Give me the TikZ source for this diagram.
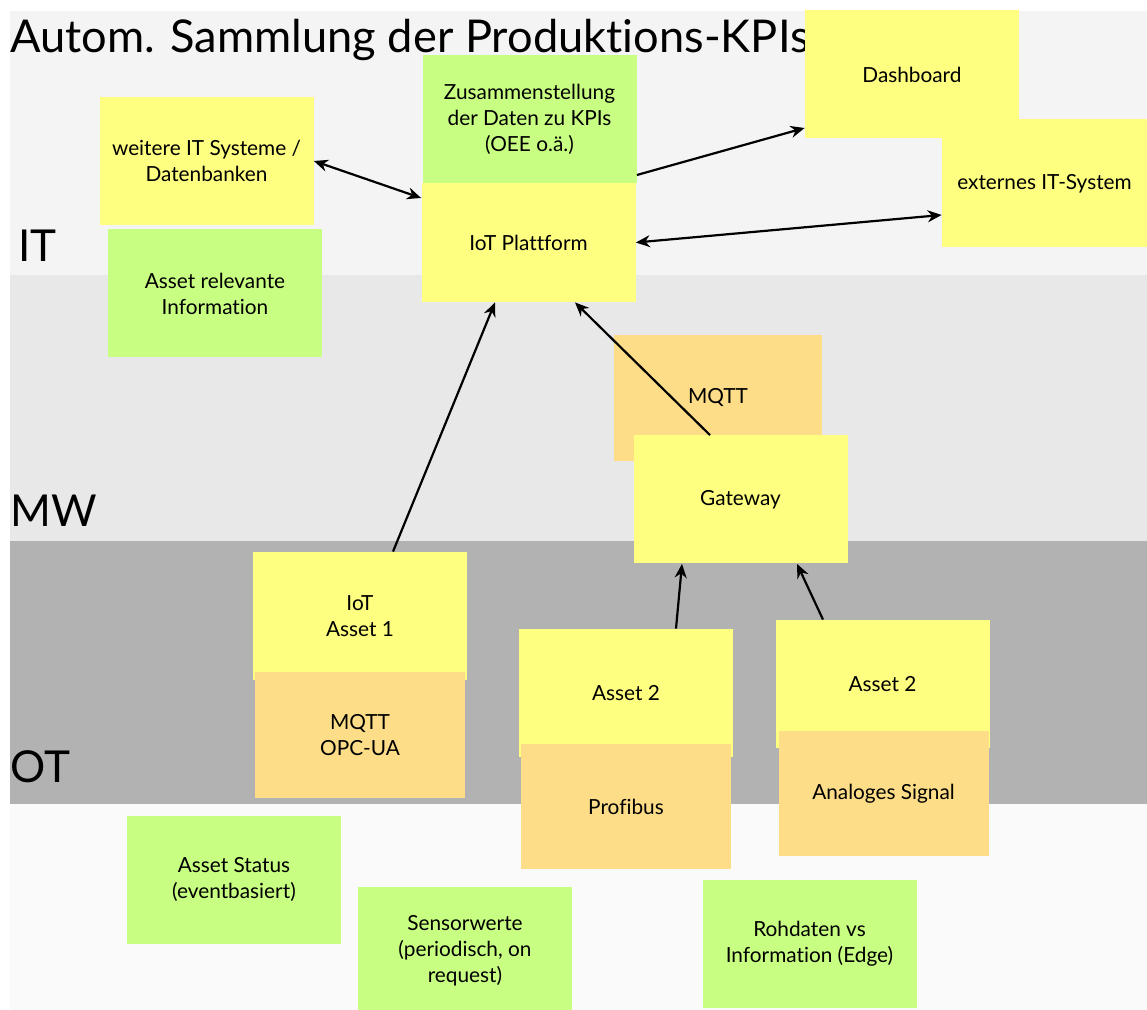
\documentclass[tikz,border=0pt]{standalone}
\usepackage{fontspec}
\setmainfont{Lato}[Ligatures=NoCommon]
\usetikzlibrary{arrows.meta}
\definecolor{stickyyellow}{HTML}{FEFE80}
\definecolor{stickygreen}{HTML}{C8FE82}
\definecolor{stickyorange}{HTML}{FEDD88}
\definecolor{bandit}{HTML}{F4F4F4}
\definecolor{bandmw}{HTML}{E8E8E8}
\definecolor{bandot}{HTML}{B2B2B2}
\definecolor{bandlow}{HTML}{FAFAFA}

\begin{document}
\begin{tikzpicture}[x=0.5pt, y=-0.5pt,
	note/.style={rectangle, inner sep=0pt, minimum width=107pt, minimum height=64pt, align=center, font=\fontsize{10.4}{13}\selectfont},
	yel/.style={note, fill=stickyyellow},
	grn/.style={note, fill=stickygreen},
	org/.style={note, fill=stickyorange, minimum width=105pt, minimum height=62.5pt},
	tip/.tip={Stealth[length=7pt, width=6pt]},
	link/.style={line width=1.1pt, -tip},
	both/.style={line width=1.1pt, tip-tip},
	layer/.style={anchor=base west, inner sep=0pt, font=\fontsize{22}{26}\selectfont}]
	\useasboundingbox (0,0) rectangle (1147,1010);
	\clip (0,0) rectangle (1147,1010);
	\fill[white] (0,0) rectangle (1147,1010);
	\fill[bandit] (10,11) rectangle (1147,275);
	\fill[bandmw] (10,275) rectangle (1147,541);
	\fill[bandot] (10,541) rectangle (1147,804);
	\fill[bandlow] (10,804) rectangle (1147,1010);
	\node[layer, font=\fontsize{22.6}{26}\selectfont] (title) at (10,53) {Autom. Sammlung der Produktions-KPIs};
	\node[layer] (it) at (18,262) {IT};
	\node[layer] (mw) at (10,527) {MW};
	\node[layer] (ot) at (10,783) {OT};

	\node[yel] (weitere) at (206.5,161) {weitere IT Systeme /\\Datenbanken};
	\node[grn] (asinfo) at (215,293.5) {Asset relevante\\Information};
	\node[grn] (kpi) at (529.5,119.5) {Zusammenstellung\\der Daten zu KPIs\\(OEE o.ä.)};
	\node[yel, minimum height=59.5pt] (iot) at (528.5,242.5) {IoT Plattform};
	\node[yel] (dash) at (912,74.5) {Dashboard};
	\node[yel, minimum width=102.5pt] (ext) at (1044.5,183.5) {externes IT-System};
		\node[org, minimum width=104pt, minimum height=63pt] (mqtt) at (718,398) {MQTT};
		\node[yel] (gw) at (740.5,499.5) {Gateway};
			\node[yel] (asset1) at (360,616) {IoT\\Asset 1};
			\node[org] (opc) at (360,735) {MQTT\\OPC-UA};
			\node[yel] (asset2a) at (626,693) {Asset 2};
			\node[org] (profi) at (626,806.5) {Profibus};
			\node[yel] (asset2b) at (882.5,684) {Asset 2};
			\node[org] (analog) at (883.5,793.5) {Analoges Signal};
				\node[grn] (status) at (234,879.5) {Asset Status\\(eventbasiert)};
				\node[grn] (sensor) at (465,950.5) {Sensorwerte\\(periodisch, on\\request)};
				\node[grn] (raw) at (809.5,943.5) {Rohdaten vs\\Information (Edge)};

	\draw[both] (weitere.east) to ([yshift=22.25pt]iot.west);
	\draw[link] ([yshift=-27.75pt]kpi.east) to ([yshift=-26.75pt]dash.west);
	\draw[both] (iot.east) to ([yshift=-15.75pt]ext.west);
	\draw[link] ([xshift=16.5pt]asset1.north) to ([xshift=-16.75pt]iot.south);
	\draw[link] ([xshift=-15.25pt]gw.north) to ([xshift=23.25pt]iot.south);
	\draw[link] ([xshift=25pt]asset2a.north) to ([xshift=-29.25pt]gw.south);
	\draw[link] ([xshift=-29.75pt]asset2b.north) to ([xshift=28.25pt]gw.south);
\end{tikzpicture}
\end{document}
